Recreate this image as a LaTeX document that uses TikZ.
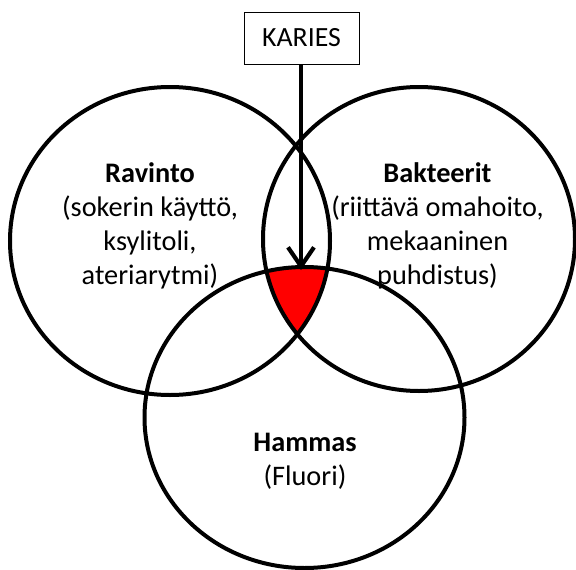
\documentclass[tikz,border=0pt]{standalone}
\usepackage{fontspec}
\setmainfont{Carlito}
\usetikzlibrary{arrows.meta}
\tikzset{
  venn/.style={draw=black, line width=4pt},
  lbl/.style={align=center, inner sep=0pt, font=\fontsize{28.3}{33.8}\selectfont},
  kbox/.style={draw=black, line width=0.8pt, minimum width=115pt, minimum height=52pt, inner sep=0pt, font=\fontsize{27.8}{30}\selectfont},
  karrow/.style={line width=4.2pt, -{Straight Barb[length=19pt,width=26pt,line width=4.2pt]}}
}
\begin{document}
\begin{tikzpicture}[x=1pt,y=-1pt]
\useasboundingbox (0,0) rectangle (576,570);
% intersection of the three circles
\begin{scope}
  \clip (170,241) ellipse [x radius=160, y radius=154];
  \clip (419,239) ellipse [x radius=156, y radius=152];
  \fill[red] (304.5,417.5) ellipse [x radius=160, y radius=150.5];
\end{scope}
\draw[venn] (170,241) ellipse [x radius=160, y radius=154];
\draw[venn] (419,239) ellipse [x radius=156, y radius=152];
\draw[venn] (304.5,417.5) ellipse [x radius=160, y radius=150.5];
% labels
\node[lbl] (ravinto) at (150,226) {\textbf{Ravinto}\\(sokerin käyttö,\\ksylitoli,\\ateriarytmi)};
\node[lbl] (bakteerit) at (437.5,226) {\textbf{Bakteerit}\\(riittävä omahoito,\\mekaaninen\\puhdistus)};
\node[lbl] (hammas) at (305,461) {\textbf{Hammas}\\(Fluori)};
% KARIES box and arrow
\node[kbox, fill=white] (karies) at (301.5,38) {KARIES};
\coordinate (tip) at (301,270);
\draw[karrow] (karies.south -| tip) -- (tip);
\end{tikzpicture}
\end{document}
